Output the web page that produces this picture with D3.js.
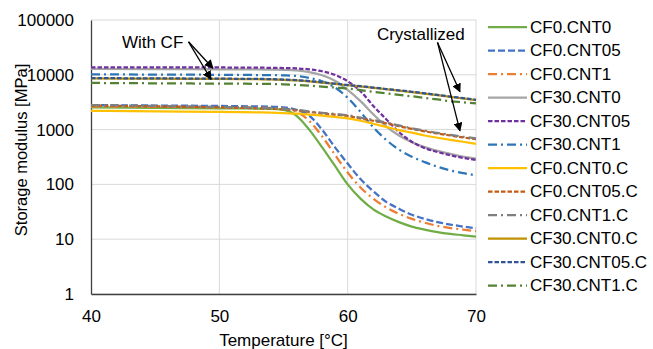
<!DOCTYPE html>
<html>
<head>
<meta charset="utf-8">
<script src="https://cdn.jsdelivr.net/npm/d3@7"></script>
<style>
  body { margin: 0; background: #fff; }
  text { font-family: "Liberation Sans", Arial, sans-serif; fill: #000; }
</style>
</head>
<body>
<div id="chart"></div>
<script>
// temperature [°C] shared by all series
const temps = [40, 45, 50, 53, 54, 55, 56, 57, 58, 59, 60, 61, 62, 63, 64, 65, 66, 67, 68, 69, 70];

// storage modulus [MPa]
const cf0cnt0 = [2550, 2500, 2450, 2420, 2400, 2300, 1800, 1000, 480, 220, 100, 55, 35, 26, 20.5, 17, 15, 13.5, 12.5, 11.8, 11.1];
const cf0cnt05 = [2800, 2750, 2700, 2650, 2620, 2550, 2300, 1800, 1000, 480, 240, 125, 75, 48, 36, 28, 23.5, 20.5, 18.5, 17, 15.8];
const cf0cnt1 = [2650, 2600, 2550, 2500, 2480, 2420, 2100, 1450, 760, 350, 165, 88, 55, 38, 29, 23.5, 20, 17.5, 16, 15, 14];
const cf30cnt0 = [12800, 12700, 12600, 12500, 12400, 12300, 12000, 11200, 9800, 7800, 5300, 3300, 1900, 1150, 780, 590, 480, 410, 360, 320, 295];
const cf30cnt05 = [13700, 13650, 13600, 13500, 13400, 13300, 13100, 12600, 11600, 10000, 7600, 5000, 2700, 1550, 900, 600, 460, 390, 340, 305, 280];
const cf30cnt1 = [10200, 10100, 10000, 9900, 9850, 9750, 9500, 8800, 7600, 5900, 3800, 2100, 1100, 650, 430, 320, 255, 210, 180, 160, 147];
const cf0cnt0c = [2200, 2150, 2100, 2060, 2040, 2000, 1950, 1880, 1800, 1700, 1600, 1450, 1280, 1120, 980, 880, 780, 710, 650, 600, 550];
const cf0cnt05c = [2750, 2650, 2550, 2450, 2400, 2350, 2250, 2100, 1980, 1880, 1780, 1600, 1450, 1300, 1150, 1030, 930, 850, 780, 720, 670];
const cf0cnt1c = [2800, 2700, 2600, 2500, 2450, 2400, 2300, 2150, 2030, 1930, 1830, 1650, 1500, 1340, 1190, 1060, 960, 870, 800, 740, 690];
const cf30cnt0c = [8600, 8500, 8400, 8300, 8250, 8100, 7900, 7600, 7200, 6850, 6450, 6150, 5800, 5450, 5150, 4850, 4550, 4250, 3950, 3700, 3450];
const cf30cnt05c = [8700, 8600, 8500, 8400, 8350, 8200, 8000, 7700, 7300, 6900, 6500, 6200, 5850, 5500, 5200, 4900, 4600, 4300, 4000, 3750, 3500];
const cf30cnt1c = [7100, 7000, 6900, 6850, 6800, 6700, 6550, 6350, 6100, 5850, 5600, 5250, 4900, 4600, 4300, 4050, 3800, 3550, 3300, 3150, 3000];

const seriesNames = ['CF0.CNT0', 'CF0.CNT05', 'CF0.CNT1', 'CF30.CNT0', 'CF30.CNT05', 'CF30.CNT1',
  'CF0.CNT0.C', 'CF0.CNT05.C', 'CF0.CNT1.C', 'CF30.CNT0.C', 'CF30.CNT05.C', 'CF30.CNT1.C'];
const seriesValues = [cf0cnt0, cf0cnt05, cf0cnt1, cf30cnt0, cf30cnt05, cf30cnt1,
  cf0cnt0c, cf0cnt05c, cf0cnt1c, cf30cnt0c, cf30cnt05c, cf30cnt1c];

const xTicks = [40, 50, 60, 70];
const yTicks = [1, 10, 100, 1000, 10000, 100000];

// annotations, in data units
const notes = [
  { text: 'With CF', at: [44.8, 40000], from: [47.6, 40000], to: [[49.5, 13200], [49.35, 8300]] },
  { text: 'Crystallized', at: [65.7, 55000], from: [67.0, 39000], to: [[68.75, 4900], [68.75, 950]] }
];

// styling per series
const colors = ['#70ad47', '#4472c4', '#ed7d31', '#a5a5a5', '#7030a0', '#2e75b6',
  '#ffc000', '#c55a11', '#7f7f7f', '#bf9000', '#2f5597', '#548235'];
const dashes = [null, '7,3', '9,4,2,4', null, '4.5,2', '9,4,2,4',
  null, '4.5,2', '9,4,2,4', null, '4.5,2', '9,4,2,4'];

const width = 653, height = 349;
const margin = { top: 20, right: 177, bottom: 55, left: 91 };
const innerWidth = width - margin.left - margin.right;
const innerHeight = height - margin.top - margin.bottom;

const svg = d3.select('#chart').append('svg')
  .attr('width', width)
  .attr('height', height);

svg.append('defs').append('marker')
  .attr('id', 'arrow')
  .attr('viewBox', '0 0 10 10')
  .attr('refX', 9).attr('refY', 5)
  .attr('markerWidth', 9).attr('markerHeight', 9)
  .attr('markerUnits', 'userSpaceOnUse')
  .attr('orient', 'auto')
  .append('path')
  .attr('d', 'M0,0 L10,5 L0,10 z')
  .attr('fill', '#000');

const g = svg.append('g')
  .attr('transform', 'translate(' + margin.left + ',' + margin.top + ')');

const x = d3.scaleLinear().domain([40, 70]).range([0, innerWidth]);
const y = d3.scaleLog().domain([1, 100000]).range([innerHeight, 0]);

// gridlines
g.append('g').selectAll('line').data(yTicks).join('line')
  .attr('x1', 0).attr('x2', innerWidth)
  .attr('y1', (d) => y(d)).attr('y2', (d) => y(d))
  .attr('stroke', '#d9d9d9').attr('stroke-width', 1);
g.append('g').selectAll('line').data(xTicks.slice(1)).join('line')
  .attr('x1', (d) => x(d)).attr('x2', (d) => x(d))
  .attr('y1', 0).attr('y2', innerHeight)
  .attr('stroke', '#d9d9d9').attr('stroke-width', 1);

// axes
const xAxis = d3.axisBottom(x).tickValues(xTicks).tickSize(0).tickPadding(10).tickFormat(d3.format('d'));
const yAxis = d3.axisLeft(y).tickValues(yTicks).tickSize(0).tickPadding(17).tickFormat(d3.format('d'));

g.append('g')
  .attr('transform', 'translate(0,' + innerHeight + ')')
  .call(xAxis)
  .call((s) => s.select('.domain').attr('stroke', '#404040').attr('stroke-width', 1.3))
  .selectAll('text').attr('font-size', 17).attr('dy', '1.05em');

g.append('g')
  .call(yAxis)
  .call((s) => s.select('.domain').attr('stroke', '#404040').attr('stroke-width', 1.3))
  .selectAll('text').attr('font-size', 17);

// lines
const line = d3.line()
  .x((d) => x(d[0]))
  .y((d) => y(d[1]))
  .curve(d3.curveMonotoneX);

const series = seriesNames.map((name, i) => ({
  name: name,
  color: colors[i],
  dash: dashes[i],
  points: temps.map((t, j) => [t, seriesValues[i][j]])
}));

g.append('g').selectAll('path').data(series).join('path')
  .attr('d', (d) => line(d.points))
  .attr('fill', 'none')
  .attr('stroke', (d) => d.color)
  .attr('stroke-width', 2.25)
  .attr('stroke-dasharray', (d) => d.dash);

// annotations
notes.forEach((n) => {
  g.append('text')
    .attr('x', x(n.at[0]))
    .attr('y', y(n.at[1]))
    .attr('text-anchor', 'middle')
    .attr('dy', '0.35em')
    .attr('font-size', 17)
    .text(n.text);
  n.to.forEach((p) => {
    g.append('line')
      .attr('x1', x(n.from[0])).attr('y1', y(n.from[1]))
      .attr('x2', x(p[0])).attr('y2', y(p[1]))
      .attr('stroke', '#000').attr('stroke-width', 1.3)
      .attr('marker-end', 'url(#arrow)');
  });
});

// axis titles
svg.append('text')
  .attr('x', margin.left + innerWidth / 2)
  .attr('y', 340)
  .attr('text-anchor', 'middle')
  .attr('dy', '0.35em')
  .attr('font-size', 17)
  .text('Temperature [°C]');

svg.append('text')
  .attr('transform', 'translate(21,150) rotate(-90)')
  .attr('text-anchor', 'middle')
  .attr('dy', '0.35em')
  .attr('font-size', 16.5)
  .text('Storage modulus [MPa]');

// legend
const legend = svg.append('g').attr('transform', 'translate(488,27)');
const rows = legend.selectAll('g').data(series).join('g')
  .attr('transform', (d, i) => 'translate(0,' + i * 23.5 + ')');
rows.append('line')
  .attr('x1', 0).attr('x2', 39)
  .attr('stroke', (d) => d.color)
  .attr('stroke-width', 2.25)
  .attr('stroke-dasharray', (d) => d.dash);
rows.append('text')
  .attr('x', 42)
  .attr('dy', '0.35em')
  .attr('font-size', 17)
  .text((d) => d.name);
</script>
</body>
</html>
